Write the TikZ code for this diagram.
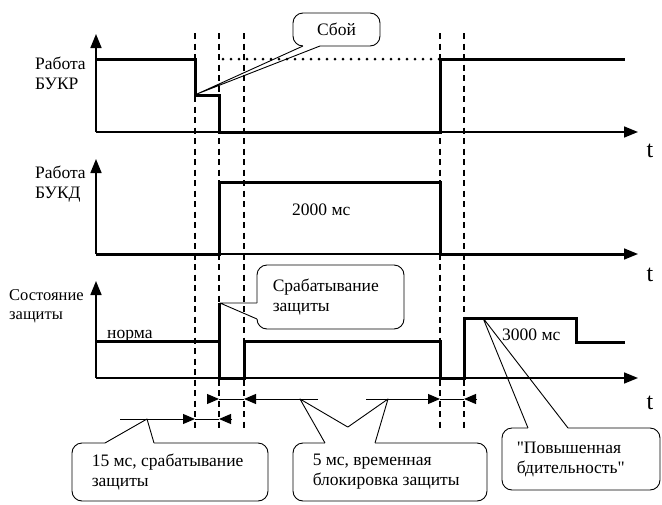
\documentclass[tikz,border=0pt]{standalone}
\usepackage{fontspec}
\setmainfont{Liberation Serif}
\usetikzlibrary{arrows.meta,calc}

% straight double quote, past the TeX ligature mapping
\newcommand{\sq}{\XeTeXglyph\XeTeXglyphindex"quotedbl"\relax}
% callout tail: base point, tip, base point
\newcommand{\calltail}[3]{%
  \fill[white] (#1) -- (#2) -- (#3) -- cycle;
  \draw[white,line width=2pt] (#1) -- (#3);
  \draw[line width=0.9pt,line join=round] (#1) -- (#2) -- (#3);}

\tikzset{
  sig/.style={line width=3pt},
  axis/.style={line width=1.6pt,-{Triangle[length=14pt,width=11pt]}},
  guide/.style={line width=1.2pt,dash pattern=on 6pt off 4.5pt},
  dim/.style={line width=1pt},
  dimtip/.style={-{Triangle[length=12pt,width=10pt]}},
  bubble/.style={draw,line width=0.9pt,rounded corners=10pt,fill=white},
  lbl/.style={inner sep=0pt,align=left},
}

\begin{document}
\begin{tikzpicture}[x=1pt,y=-1pt,font=\fontsize{17.5}{20}\selectfont]
  \useasboundingbox (0,0) rectangle (662,504);

  % callouts first, the rest is drawn over their tails
  \node[bubble,minimum width=87pt,minimum height=33pt] (fail) at (336.5,29.5) {};
  \calltail{303,46}{197,94}{320,46}

  \node[bubble,minimum width=147pt,minimum height=64pt] (trip) at (330.5,297) {};
  \calltail{257,303}{220,303}{257,319}

  \node[bubble,minimum width=196pt,minimum height=58pt] (t15) at (170,472) {};
  \calltail{105,443}{147,419}{154,443}

  \node[bubble,minimum width=194pt,minimum height=58pt] (t5) at (390,472) {};
  \coordinate (bl) at (325,443);
  \coordinate (br) at (375,443);
  \coordinate (pa) at (300,399);
  \coordinate (pb) at (388,399);
  \fill[white] (bl) -- (pa) -- (br) -- cycle;
  \fill[white] (bl) -- (pb) -- (br) -- cycle;
  \draw[white,line width=2pt] (bl) -- (br);
  \draw[line width=0.9pt,line join=round] (bl) -- (pa) -- (intersection of pa--br and bl--pb) -- (pb) -- (br);

  \node[bubble,minimum width=158pt,minimum height=62pt] (watch) at (581,459) {};
  \calltail{528,428}{483,318}{568,428}

  % callout texts
  \node (failtxt) at (fail) {Сбой};
  \node[lbl,anchor=west] (triptxt) at ([xshift=16pt]trip.west) {Срабатывание\\защиты};
  \node[lbl,anchor=west] (t15txt) at ([xshift=20pt]t15.west) {15 мс, срабатывание\\защиты};
  \node[lbl,anchor=west] (t5txt) at ([xshift=20pt]t5.west) {5 мс, временная\\блокировка защиты};
  \node[lbl,anchor=west] (watchtxt) at ([xshift=15pt]watch.west) {\sq Повышенная\\бдительность\sq};

  % time marks
  \foreach \gx in {195,219,244,440,464}
    \draw[guide] (\gx,33) -- (\gx,428);

  % axes
  \coordinate (o1) at (96,132);
  \coordinate (o2) at (96,254);
  \coordinate (o3) at (96,378);
  \draw[axis] (o1) -- ++(0,-98);
  \draw[axis] (o1) -- ++(542,0);
  \draw[axis] (o2) -- ++(0,-95);
  \draw[axis] (o2) -- ++(542,0);
  \draw[axis] (o3) -- ++(0,-97);
  \draw[axis] (o3) -- ++(542,0);

  % signals
  \draw[line width=3pt,line cap=round,dash pattern=on 0pt off 8pt] (223,59) -- (440,59);
  \draw[sig] (96,59) -| (195,95) -| (219,132) -| (440,59) -- (625,59);
  \draw[sig] (96,254) -| (219,182) -| (440,254) -- (625,254);
  \draw[sig] (96,341) -- (219,341) -- (219,303) -- (219,378) -- (244,378) -- (244,341)
    -- (440,341) -- (440,378) -- (464,378) -- (464,318) -- (576,318) -- (576,342) -- (625,342);

  % intervals
  \draw[dim,dimtip] (120,419) -- (195,419);
  \draw[dim] (195,419) -- (219,419);
  \draw[dim,dimtip] (232,419) -- (219,419);
  \draw[dim,dimtip] (207,399) -- (219,399);
  \draw[dim] (219,399) -- (244,399);
  \draw[dim,dimtip] (318,399) -- (244,399);
  \draw[dim,dimtip] (366,399) -- (440,399);
  \draw[dim] (440,399) -- (464,399);
  \draw[dim,dimtip] (477,399) -- (464,399);

  % labels
  \node[lbl,anchor=west] (bukr) at (35,73) {Работа\\БУКР};
  \node[lbl,anchor=west] (bukd) at (35,184) {Работа\\БУКД};
  \node[lbl,anchor=west,font=\fontsize{16.5}{19}\selectfont] (prot) at (9,306) {Состояние\\защиты};
  \node[lbl,anchor=base west] (norm) at (107,338) {норма};
  \node[lbl,anchor=base west] (d2000) at (292,215) {2000 мс};
  \node[lbl,anchor=base west] (d3000) at (502,340) {3000 мс};
  \node[font=\fontsize{24}{26}\selectfont] (t1) at (650,151) {t};
  \node[font=\fontsize{24}{26}\selectfont] (t2) at (650,275) {t};
  \node[font=\fontsize{24}{26}\selectfont] (t3) at (650,403) {t};
\end{tikzpicture}
\end{document}
